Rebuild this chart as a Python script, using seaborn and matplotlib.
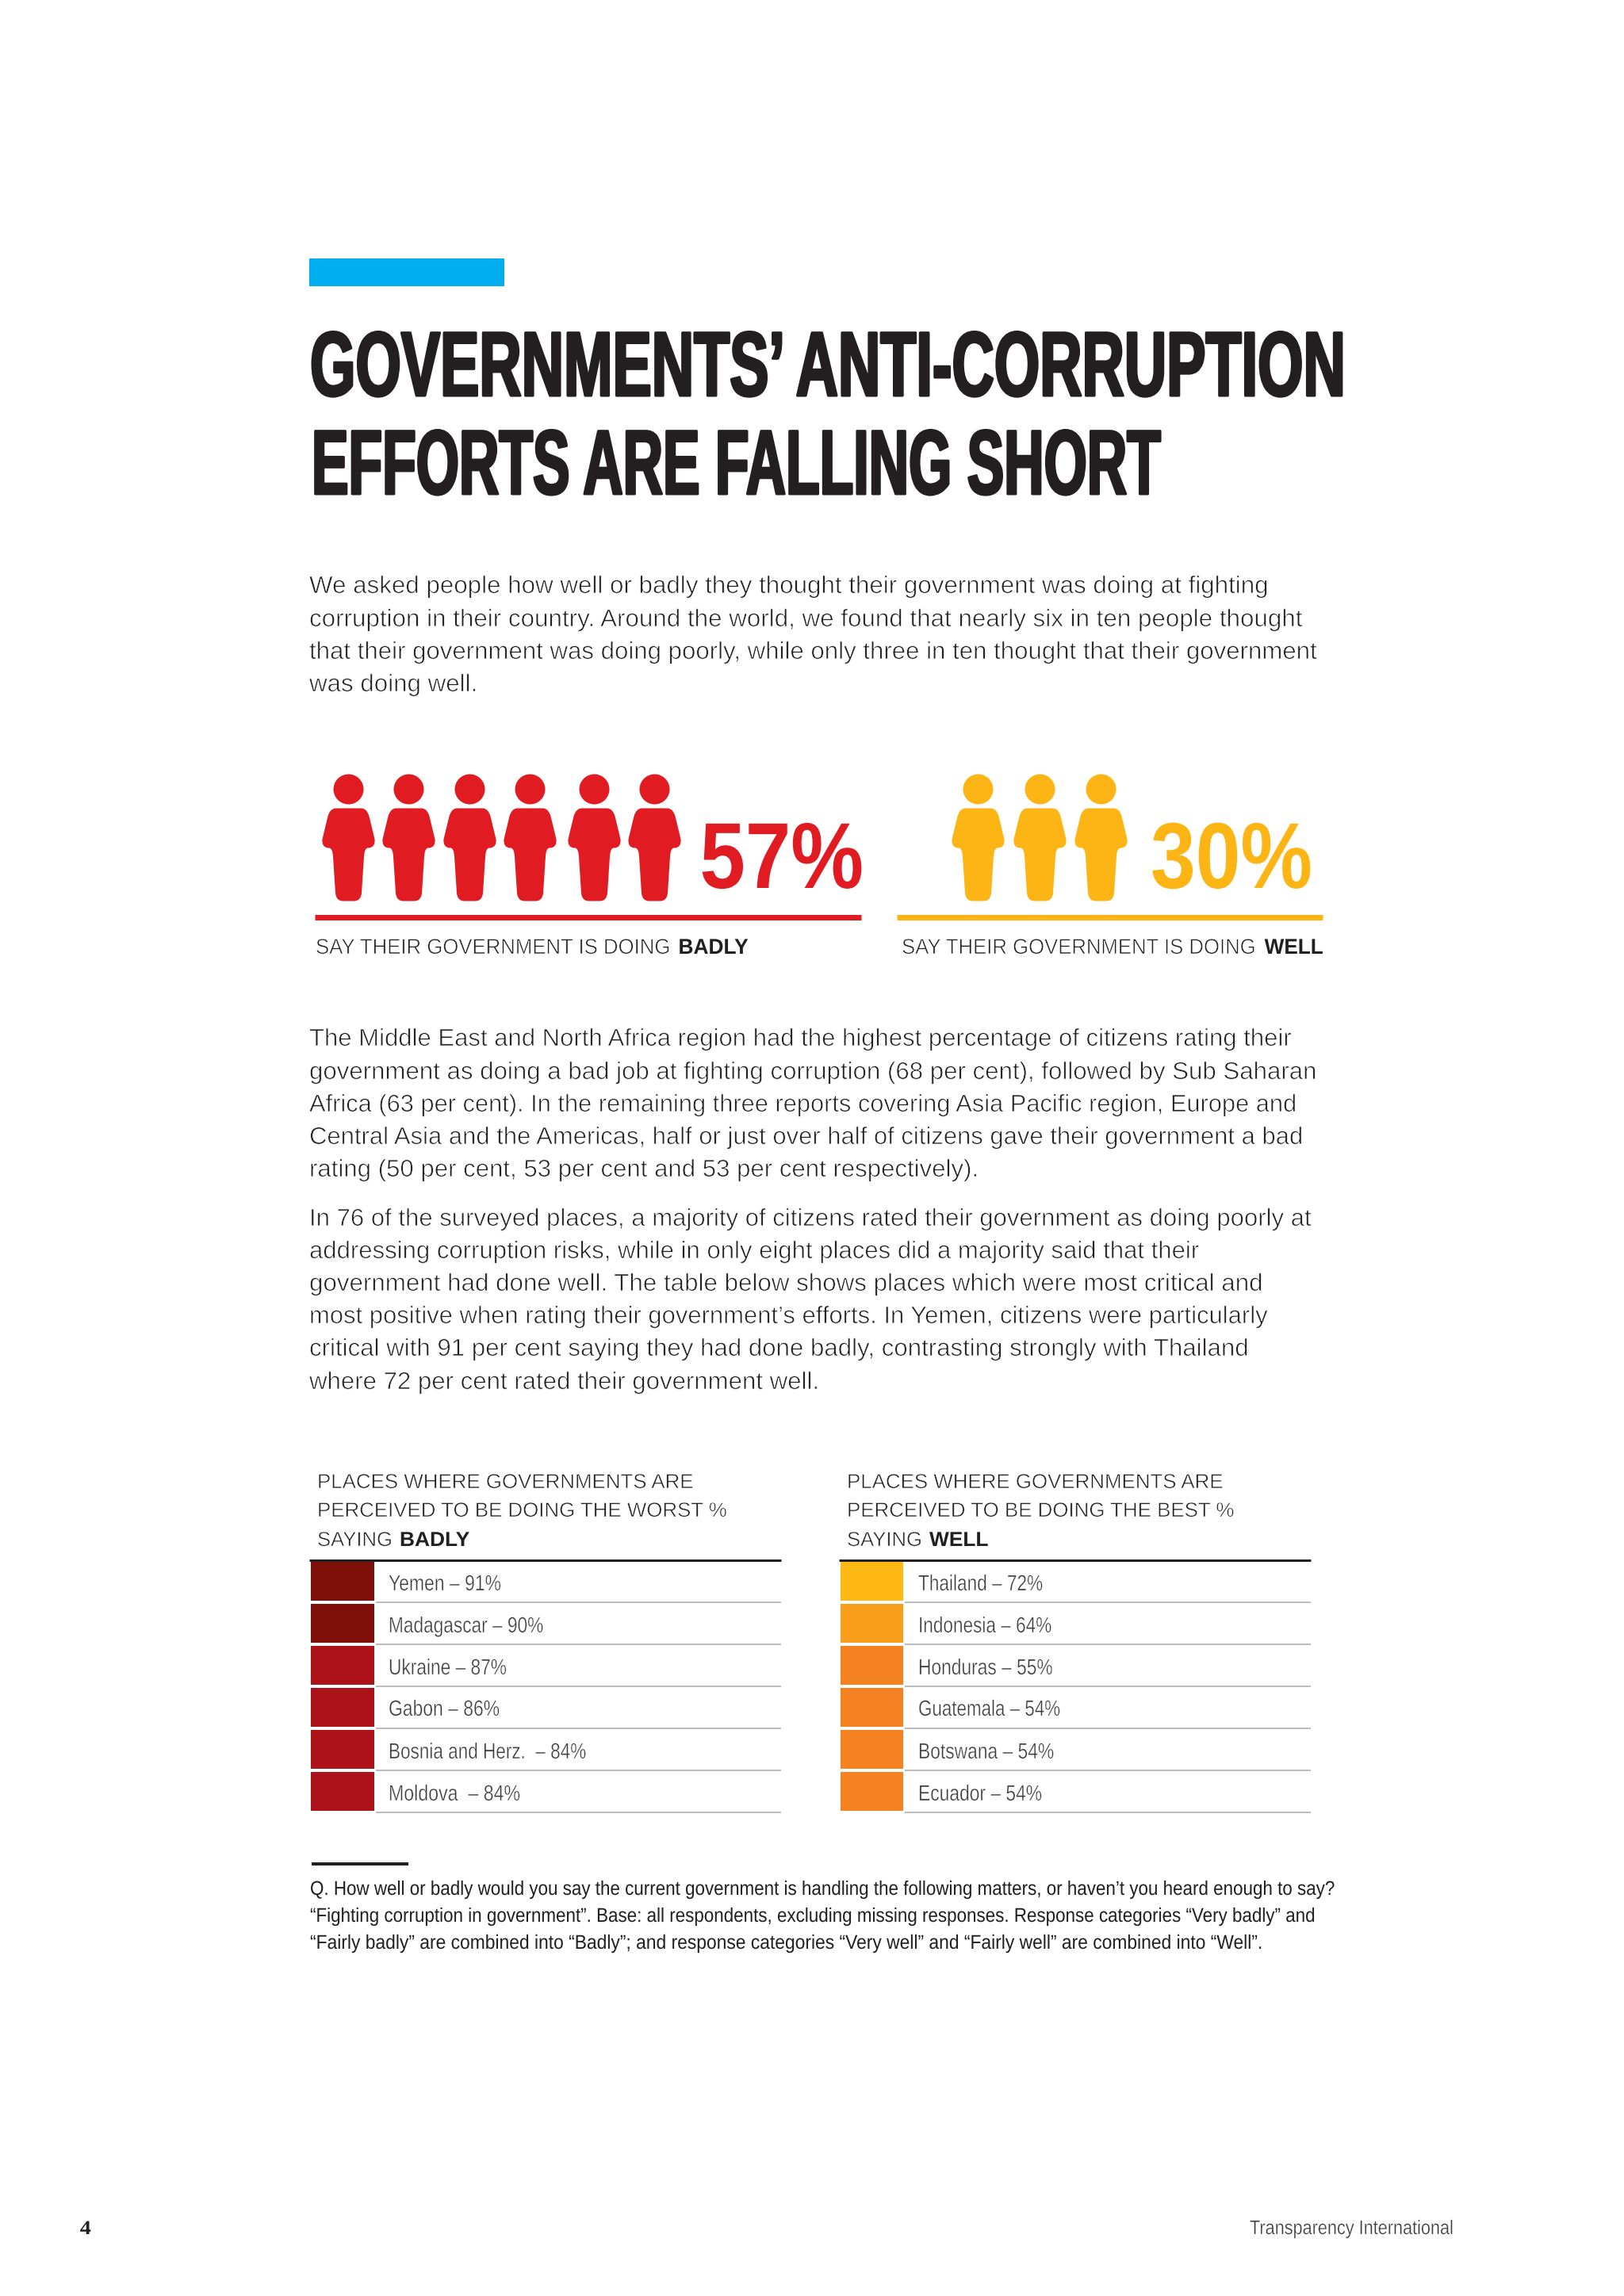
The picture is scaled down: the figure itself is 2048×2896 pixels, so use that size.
import numpy as np
import pandas as pd
import matplotlib
matplotlib.use("Agg")
import matplotlib.pyplot as plt
import matplotlib.patheffects as pe
from matplotlib.colors import ListedColormap, BoundaryNorm
from matplotlib.path import Path
from matplotlib.patches import Rectangle
from matplotlib.transforms import Affine2D
import seaborn as sns

# ---------- data ----------
title_lines = ["GOVERNMENTS’ ANTI-CORRUPTION", "EFFORTS ARE FALLING SHORT"]
para1 = ["We asked people how well or badly they thought their government was doing at fighting",
         "corruption in their country. Around the world, we found that nearly six in ten people thought",
         "that their government was doing poorly, while only three in ten thought that their government",
         "was doing well."]
para2 = ["The Middle East and North Africa region had the highest percentage of citizens rating their",
         "government as doing a bad job at fighting corruption (68 per cent), followed by Sub Saharan",
         "Africa (63 per cent). In the remaining three reports covering Asia Pacific region, Europe and",
         "Central Asia and the Americas, half or just over half of citizens gave their government a bad",
         "rating (50 per cent, 53 per cent and 53 per cent respectively)."]
para3 = ["In 76 of the surveyed places, a majority of citizens rated their government as doing poorly at",
         "addressing corruption risks, while in only eight places did a majority said that their",
         "government had done well. The table below shows places which were most critical and",
         "most positive when rating their government’s efforts. In Yemen, citizens were particularly",
         "critical with 91 per cent saying they had done badly, contrasting strongly with Thailand",
         "where 72 per cent rated their government well."]
badly_pct = 57
well_pct = 30
badly_people = 6
well_people = 3
worst_places = ["Yemen", "Madagascar", "Ukraine", "Gabon", "Bosnia and Herz. ", "Moldova "]
worst_values = [91, 90, 87, 86, 84, 84]
best_places = ["Thailand", "Indonesia", "Honduras", "Guatemala", "Botswana", "Ecuador"]
best_values = [72, 64, 55, 54, 54, 54]
footnote = ["Q. How well or badly would you say the current government is handling the following matters, or haven’t you heard enough to say?",
            "“Fighting corruption in government”. Base: all respondents, excluding missing responses. Response categories “Very badly” and",
            "“Fairly badly” are combined into “Badly”; and response categories “Very well” and “Fairly well” are combined into “Well”."]

# ---------- style ----------
INK = "#231F20"
RED = "#E11B22"
YEL = "#FDB515"
NARROW = ["Liberation Sans Narrow", "Liberation Sans"]
SANS = ["Liberation Sans"]

sns.set_theme(style="white")
plt.rcParams["font.family"] = SANS

W, H = 2048, 2896
fig = plt.figure(figsize=(W / 100, H / 100), dpi=100, facecolor="white")


def frame(x0, y0, x1, y1):
    return [x0 / W, 1 - y1 / H, (x1 - x0) / W, (y1 - y0) / H]


# ---------- swatch columns (heatmaps) ----------
def swatches(values, x0, x1, bins, colours):
    a = fig.add_axes(frame(x0, 1968, x1, 2286))
    sns.heatmap(pd.DataFrame({"v": values}), ax=a, cbar=False,
                cmap=ListedColormap(colours), norm=BoundaryNorm(bins, len(colours)),
                linewidths=1.6, linecolor="white", xticklabels=False, yticklabels=False)


swatches(worst_values, 390, 474, [80, 89, 100], ["#AC1218", "#7F0F09"])
swatches(best_values, 1058, 1141, [50, 60, 70, 80], ["#F58220", "#F99D1C", "#FDB813"])

# ---------- page overlay in pixel coordinates ----------
ax = fig.add_axes([0, 0, 1, 1], zorder=5)
ax.set_xlim(0, W)
ax.set_ylim(H, 0)
ax.axis("off")
renderer = fig.canvas.get_renderer()


class Squeeze(pe.AbstractPathEffect):
    """Horizontal scaling of real text around x0, with optional weight change."""

    def __init__(self, sx, x0, heavy=0.0, thin=0.0):
        super().__init__()
        self.sx, self.x0, self.heavy, self.thin = sx, x0, heavy, thin

    def draw_path(self, renderer, gc, tpath, affine, rgbFace=None):
        aff = affine + Affine2D().translate(-self.x0, 0).scale(self.sx, 1).translate(self.x0, 0)
        g = renderer.new_gc()
        g.copy_properties(gc)
        if self.heavy > 0:
            g.set_linewidth(self.heavy)
            g.set_foreground(rgbFace)
        renderer.draw_path(g, tpath, aff, rgbFace)
        if self.thin > 0:
            g.set_linewidth(self.thin)
            g.set_foreground("white")
            renderer.draw_path(g, tpath, aff, None)
        g.restore()


def fit(left, right, base, s, cap, family=SANS, weight="normal", color=INK, heavy=0.0, thin=0.0):
    mid = (left + right) / 2
    t = ax.text(mid, base, s, fontsize=cap, family=family, weight=weight, color=color,
                ha="center", va="baseline")
    w = t.get_window_extent(renderer).width
    t.set_path_effects([Squeeze((right - left) / w, mid, heavy, thin)])
    return t


def rule(x0, x1, y, px, color):
    ax.plot([x0, x1], [y, y], color=color, lw=px * 0.72, solid_capstyle="butt")


# blue flag
ax.add_patch(Rectangle((390, 326), 246, 35, color="#00AEEF", lw=0))

# title
fit(391, 1697, 499, title_lines[0], 83, NARROW, "bold", heavy=2.2)
fit(393, 1464, 623, title_lines[1], 83, NARROW, "bold", heavy=2.2)

# body text
BODY_THIN = 0.55
for lines, bases, rights in [
    (para1, [748, 790, 831, 872], [1595, 1639, 1657, 601]),
    (para2, [1319, 1361, 1402, 1443, 1484], [1625, 1657, 1632, 1640, 1232]),
    (para3, [1546, 1587, 1628, 1669, 1710, 1752], [1650, 1508, 1588, 1595, 1571, 1031]),
]:
    for s, b, r in zip(lines, bases, rights):
        fit(390, r, b, s, 22, thin=BODY_THIN)

# pictogram marker
half = [(16, 43, 2), (23, 43, 3), (26, 53, 3), (33, 82, 2), (34, 92, 3), (26, 93, 3),
        (24, 93, 2), (20, 94, 3), (19.5, 104, 3), (16.5, 150, 2), (15.5, 160, 3), (7, 160, 3), (0, 160, 2)]
verts = [(0, 43)] + [(x, y) for x, y, _ in half]
codes = [Path.MOVETO] + [c for _, _, c in half]
mirror = half[:-1][::-1]
# walk back up the left side
left_pts = [(-x, y) for x, y, _ in half[::-1]][1:]
left_codes = [c for _, _, c in half[1:][::-1]]
verts += left_pts + [(0, 43)]
codes += left_codes + [Path.LINETO]
verts = np.array(verts, dtype=float)
verts[:, 1] = 80 - verts[:, 1]
body = Path(verts, codes)
circle = Path.unit_circle()
head = Path(circle.vertices * 19 + np.array([0, 80 - 19]), circle.codes)
person = Path.make_compound_path(head, body)
PERSON_S = (160 * 0.72) ** 2

badly_x = [438.7, 514.7, 591.7, 668.3, 748.9, 824.9][:badly_people]
well_x = [1232.5, 1311, 1387.5][:well_people]
sns.scatterplot(x=badly_x, y=[1056] * badly_people, ax=ax, marker=person, s=PERSON_S,
                color=RED, linewidth=0, legend=False, clip_on=False)
sns.scatterplot(x=well_x, y=[1056] * well_people, ax=ax, marker=person, s=PERSON_S,
                color=YEL, linewidth=0, legend=False, clip_on=False)
ax.set_xlim(0, W)
ax.set_ylim(H, 0)
ax.axis("off")

fit(882.5, 1089, 1120, f"{badly_pct}%", 85, NARROW, "bold", RED)
fit(1451, 1655, 1120, f"{well_pct}%", 85, NARROW, "bold", YEL)

rule(397, 1086, 1156.5, 7, RED)
rule(1131, 1667.5, 1156.5, 7, YEL)

fit(398, 846, 1203, "SAY THEIR GOVERNMENT IS DOING", 19.5, thin=0.5)
fit(855.5, 944, 1203, "BADLY", 19.5, weight="bold")
fit(1137, 1584.3, 1203, "SAY THEIR GOVERNMENT IS DOING", 19.5, thin=0.5)
fit(1594.7, 1669, 1203, "WELL", 19.5, weight="bold")

# table headings
fit(400, 875, 1877, "PLACES WHERE GOVERNMENTS ARE", 18.5, thin=0.45)
fit(400, 917, 1913, "PERCEIVED TO BE DOING THE WORST %", 18.5, thin=0.45)
fit(400, 495, 1950, "SAYING", 18.5, thin=0.45)
fit(504, 592.5, 1950, "BADLY", 18.5, weight="bold")
fit(1068, 1543, 1877, "PLACES WHERE GOVERNMENTS ARE", 18.5, thin=0.45)
fit(1068, 1556.5, 1913, "PERCEIVED TO BE DOING THE BEST %", 18.5, thin=0.45)
fit(1068, 1163, 1950, "SAYING", 18.5, thin=0.45)
fit(1172, 1246.7, 1950, "WELL", 18.5, weight="bold")

# table rows
rule(390, 985, 1968, 3, INK)
rule(1058, 1653, 1968, 3, INK)
row_lines = [2021, 2074, 2127, 2180, 2233, 2286]
row_bases = [2006, 2059, 2112, 2164, 2218, 2271]
left_ends = [632, 685, 639, 630, 739, 656]
right_ends = [1315, 1326, 1327.5, 1337, 1329, 1314]
for i in range(6):
    rule(474, 985, row_lines[i], 2, "#BCBDC0")
    rule(1141, 1653, row_lines[i], 2, "#BCBDC0")
    fit(490, left_ends[i], row_bases[i], f"{worst_places[i]} – {worst_values[i]}%", 20,
        NARROW, color="#3A3A3C", thin=0.3)
    fit(1158, right_ends[i], row_bases[i], f"{best_places[i]} – {best_values[i]}%", 20,
        NARROW, color="#3A3A3C", thin=0.3)

# footnote
rule(392.6, 514.7, 2351, 4, INK)
for s, b, r in zip(footnote, [2390, 2424, 2458], [1683, 1657, 1590]):
    fit(391, r, b, s, 18, NARROW)

# page furniture
fit(100.7, 115, 2818, "4", 18, ["Liberation Serif"], "bold")
fit(1576, 1833, 2818, "Transparency International", 18, NARROW, color="#3A3A3C", thin=0.25)

fig.savefig("out.png", dpi=100, facecolor="white")
